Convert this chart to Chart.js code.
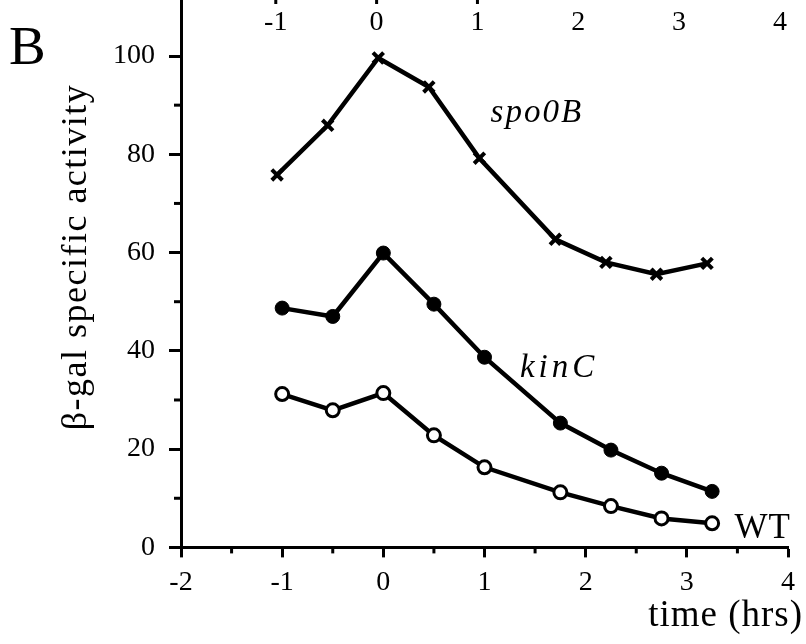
<!DOCTYPE html>
<html>
<head>
<meta charset="utf-8">
<script src="https://cdn.jsdelivr.net/npm/chart.js@4.4.0/dist/chart.umd.min.js"></script>
<style>
  html, body { margin:0; padding:0; background:#fff; }
  #wrap { width:806px; height:644px; }
</style>
</head>
<body>
<div id="wrap"><canvas id="chart"></canvas></div>
<script>
// time (hrs) of each sample
const timesSpo0B = [-1.05, -0.55, -0.05, 0.45, 0.95, 1.7, 2.2, 2.7, 3.2];
const timesKinC  = [-1, -0.5, 0, 0.5, 1, 1.75, 2.25, 2.75, 3.25];
const timesWT    = [-1, -0.5, 0, 0.5, 1, 1.75, 2.25, 2.75, 3.25];
// beta-gal specific activity
const spo0B = [75.8, 85.9, 99.6, 93.7, 79.2, 62.7, 58.0, 55.6, 57.8];
const kinC  = [48.7, 47.0, 59.9, 49.5, 38.7, 25.3, 19.8, 15.1, 11.4];
const wt    = [31.2, 27.9, 31.4, 22.8, 16.3, 11.2, 8.4, 5.9, 4.9];
// axis ticks
const xMajor = [-2, -1, 0, 1, 2, 3, 4];
const xMinor = [-1.5, -0.5, 0.5, 1.5, 2.5, 3.5];
const yMajor = [0, 20, 40, 60, 80, 100];
const yMinor = [10, 30, 50, 70, 90];
// labels of the panel above (cut off at the top)
const topTicks = [-1, 0, 1, 2, 3, 4];

const serif = "'Liberation Serif', serif";

function pts(xs, ys){ return xs.map((t,i)=>({x:t, y:ys[i]})) }

const extras = {
  id: 'extras',
  afterDraw(chart){
    const ctx = chart.ctx, x = chart.scales.x, y = chart.scales.y, xt = chart.scales.xTop;
    const a = chart.chartArea;
    ctx.save();
    ctx.strokeStyle = '#000';
    ctx.fillStyle = '#000';
    ctx.lineWidth = 3;
    // minor ticks
    xMinor.forEach(v=>{
      const px = x.getPixelForValue(v);
      ctx.beginPath(); ctx.moveTo(px, a.bottom); ctx.lineTo(px, a.bottom+6); ctx.stroke();
    });
    yMinor.forEach(v=>{
      const py = y.getPixelForValue(v);
      ctx.beginPath(); ctx.moveTo(a.left, py); ctx.lineTo(a.left-7, py); ctx.stroke();
    });
    // top panel ticks + labels
    ctx.font = "28px " + serif;
    ctx.textAlign = 'center'; ctx.textBaseline = 'middle';
    topTicks.forEach(v=>{
      const px = xt.getPixelForValue(v);
      ctx.fillText(String(v), px, 23);
      if (v <= 1) { ctx.beginPath(); ctx.moveTo(px, 0); ctx.lineTo(px, 4); ctx.stroke(); }
    });
    // series names
    ctx.textAlign = 'left'; ctx.textBaseline = 'alphabetic';
    ctx.font = "italic 33px " + serif;
    ctx.letterSpacing = '2px';
    ctx.fillText('spo0B', x.getPixelForValue(1.06), y.getPixelForValue(86.6));
    ctx.letterSpacing = '4px';
    ctx.fillText('kinC', x.getPixelForValue(1.35), y.getPixelForValue(34.6));
    ctx.letterSpacing = '1px';
    ctx.font = "35px " + serif;
    ctx.fillText('WT', x.getPixelForValue(3.47), y.getPixelForValue(2.0));
    // panel letter
    ctx.letterSpacing = '0px';
    ctx.font = "55px " + serif;
    ctx.fillText('B', 9, 64);
    // x title
    ctx.font = "37px " + serif;
    ctx.letterSpacing = '1px';
    ctx.textAlign = 'right';
    ctx.fillText('time (hrs)', 803, 626);
    // y title
    ctx.translate(77, 257);
    ctx.rotate(-Math.PI/2);
    ctx.textAlign = 'center'; ctx.textBaseline = 'middle';
    ctx.font = "36px " + serif;
    ctx.letterSpacing = '1.5px';
    ctx.fillText('β-gal specific activity', 0, 0);
    ctx.restore();
  }
};

const lineStyle = { borderColor:'#000', borderWidth:4.5, tension:0, showLine:true, xAxisID:'x', yAxisID:'y' };

new Chart(document.getElementById('chart'), {
  type: 'scatter',
  data: {
    datasets: [
      Object.assign({ label:'spo0B', data: pts(timesSpo0B, spo0B), pointStyle:'crossRot', pointRadius:7.5,
        pointBorderWidth:4, pointBorderColor:'#000', pointBackgroundColor:'#000' }, lineStyle),
      Object.assign({ label:'kinC', data: pts(timesKinC, kinC), pointStyle:'circle', pointRadius:7,
        pointBorderWidth:1, pointBorderColor:'#000', pointBackgroundColor:'#000' }, lineStyle),
      Object.assign({ label:'WT', data: pts(timesWT, wt), pointStyle:'circle', pointRadius:6.5,
        pointBorderWidth:3, pointBorderColor:'#000', pointBackgroundColor:'#fff' }, lineStyle)
    ]
  },
  options: {
    responsive: true,
    maintainAspectRatio: false,
    animation: false,
    clip: false,
    layout: { autoPadding:false, padding: { top:0, right:18, bottom:37, left:99 } },
    plugins: { legend:{display:false}, tooltip:{enabled:false} },
    scales: {
      x: {
        type:'linear', position:'bottom', min:-2, max:4,
        afterBuildTicks: s => { s.ticks = xMajor.map(v=>({value:v})) },
        border: { display:true, color:'#000', width:3 },
        grid: { drawOnChartArea:false, drawTicks:true, tickLength:10, tickWidth:3, tickColor:'#000' },
        ticks: { color:'#000', font:{family:serif, size:28}, padding:8, maxRotation:0, autoSkip:false }
      },
      xTop: { type:'linear', display:false, min:-1.94, max:4.08 },
      y: {
        type:'linear', min:0, max:111.4,
        afterBuildTicks: s => { s.ticks = yMajor.map(v=>({value:v})) },
        afterFit: s => { s.paddingTop = 0; s.paddingBottom = 0 },
        border: { display:true, color:'#000', width:3 },
        grid: { drawOnChartArea:false, drawTicks:true, tickLength:12, tickWidth:3, tickColor:'#000' },
        ticks: { color:'#000', font:{family:serif, size:28}, padding:14 }
      }
    }
  },
  plugins: [extras]
});
</script>
</body>
</html>
